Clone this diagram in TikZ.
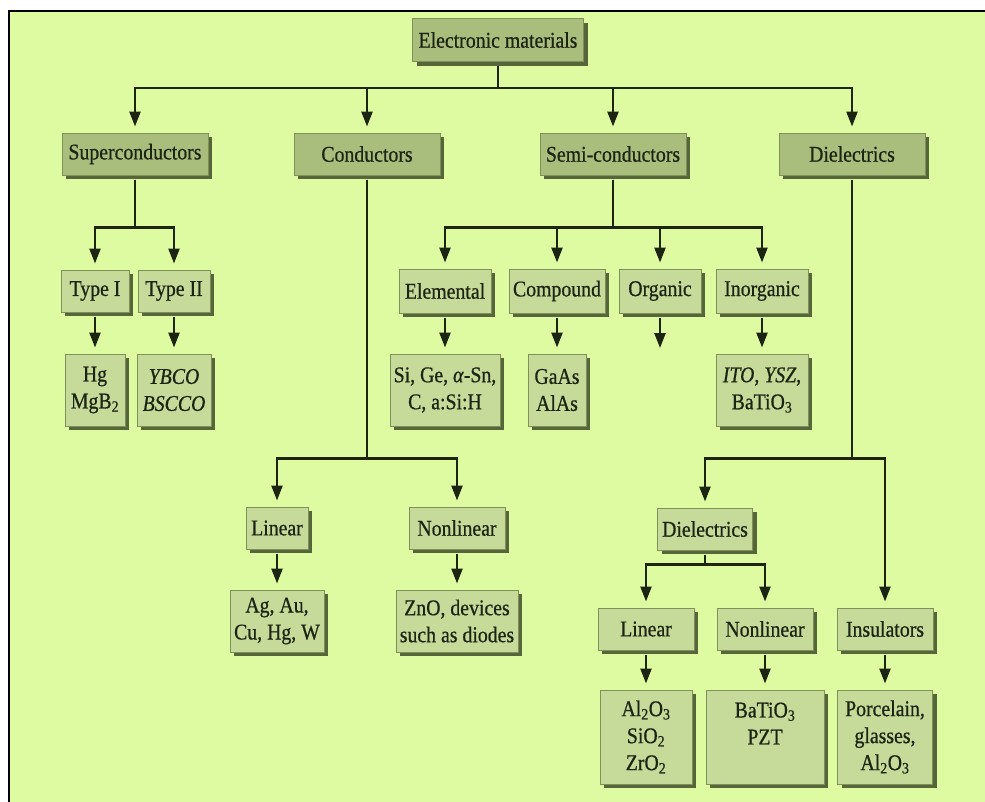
\documentclass[tikz,border=0pt]{standalone}
\usepackage{fontspec}
\setmainfont{Liberation Serif}[FakeStretch=0.88,FakeBold=0.6]
\usetikzlibrary{arrows.meta,shadows}
\definecolor{bggreen}{HTML}{DFFBA2}
\definecolor{headfill}{HTML}{A9BD7D}
\definecolor{boxfill}{HTML}{C6DA99}
\definecolor{boxline}{HTML}{7E9258}
\definecolor{shade}{HTML}{56663A}
\definecolor{ink}{HTML}{1C2412}
\begin{document}
\begin{tikzpicture}[x=1pt,y=-1pt,
	box/.style={draw=boxline,line width=1pt,fill=boxfill,align=center,text=ink,
		font=\fontsize{22.5}{27}\selectfont,inner sep=0pt,
		drop shadow={shadow xshift=4pt,shadow yshift=-4pt,fill=shade,opacity=1}},
	headbox/.style={box,fill=headfill},
	wh/.style 2 args={minimum width=#1,minimum height=#2},
	arr/.style={draw=ink,line width=2.4pt,-{Triangle[length=15pt,width=11pt]},
		shorten <=4pt,shorten >=6pt}]
\useasboundingbox (0,0) rectangle (985,801);
\fill[white] (0,0) rectangle (985,801);
\draw[line width=2pt,fill=bggreen] (9,10.5) rectangle (1000,820);
\node[headbox,wh={171}{43}] (root) at (498,40) {Electronic materials};
\node[headbox,wh={146}{42}] (super) at (135,154) {Superconductors};
\node[headbox,wh={146}{42}] (cond) at (367,154) {Conductors};
\node[headbox,wh={146}{42}] (semi) at (613,154) {Semi-conductors};
\node[headbox,wh={146}{42}] (diel) at (852,154) {Dielectrics};
\node[box,wh={68}{42}] (typeI) at (95,291) {Type I};
\node[box,wh={72}{42}] (typeII) at (174,291) {Type II};
\node[box,wh={60}{72}] (hg) at (95,390) {Hg\\MgB\textsubscript{2}};
\node[box,wh={74}{72}] (ybco) at (174,390) {\textit{YBCO}\\\textit{BSCCO}};
\node[box,wh={92}{44}] (elem) at (445,291) {Elemental};
\node[box,wh={96}{44}] (comp) at (557,291) {Compound};
\node[box,wh={82}{44}] (org) at (660,291) {Organic};
\node[box,wh={92}{44}] (inorg) at (762,291) {Inorganic};
\node[box,wh={110}{72}] (si) at (445,390) {Si, Ge, \textit{α}-Sn,\\C, a:Si:H};
\node[box,wh={58}{72}] (gaas) at (557,390) {GaAs\\AlAs};
\node[box,wh={92}{72}] (ito) at (762,390) {\textit{ITO}, \textit{YSZ},\\BaTiO\textsubscript{3}};
\coordinate (orgend) at (660,348);
\node[box,wh={62}{42}] (lin) at (277,528) {Linear};
\node[box,wh={96}{42}] (nonlin) at (457,528) {Nonlinear};
\node[box,wh={94}{62}] (ag) at (277,621) {Ag, Au,\\Cu, Hg, W};
\node[box,wh={122}{62}] (zno) at (457,621) {ZnO, devices\\such as diodes};
\node[box,wh={95}{42}] (diel2) at (705,529) {Dielectrics};
\node[box,wh={96}{42}] (lin2) at (646,629) {Linear};
\node[box,wh={96}{42}] (nonlin2) at (765,629) {Nonlinear};
\node[box,wh={96}{42}] (insul) at (885,629) {Insulators};
\node[box,wh={92}{94}] (al) at (646,737) {Al\textsubscript{2}O\textsubscript{3}\\SiO\textsubscript{2}\\ZrO\textsubscript{2}};
\node[box,wh={118}{94}] (bat) at (765,737) {BaTiO\textsubscript{3}\\PZT\\~};
\node[box,wh={95}{94}] (porc) at (885,737) {Porcelain,\\glasses,\\Al\textsubscript{2}O\textsubscript{3}};
\foreach \n in {super,cond,semi,diel}
	\draw[arr] (root.south) -- ++(0,26) -| (\n);
\foreach \n in {typeI,typeII}
	\draw[arr] (super.south) -- ++(0,52) -| (\n);
\foreach \n in {elem,comp,org,inorg}
	\draw[arr] (semi.south) -- ++(0,52) -| (\n);
\foreach \n in {lin,nonlin}
	\draw[arr] (cond.south) -- ++(0,283) -| (\n);
\foreach \n in {diel2,insul}
	\draw[arr] (diel.south) -- ++(0,283) -| (\n);
\foreach \n in {lin2,nonlin2}
	\draw[arr] (diel2.south) -- ++(0,14) -| (\n);
\draw[arr] (typeI) -- (hg);
\draw[arr] (typeII) -- (ybco);
\draw[arr] (elem) -- (si);
\draw[arr] (comp) -- (gaas);
\draw[arr,shorten >=0pt] (org) -- (orgend);
\draw[arr] (inorg) -- (ito);
\draw[arr] (lin) -- (ag);
\draw[arr] (nonlin) -- (zno);
\draw[arr] (lin2) -- (al);
\draw[arr] (nonlin2) -- (bat);
\draw[arr] (insul) -- (porc);
\end{tikzpicture}
\end{document}
